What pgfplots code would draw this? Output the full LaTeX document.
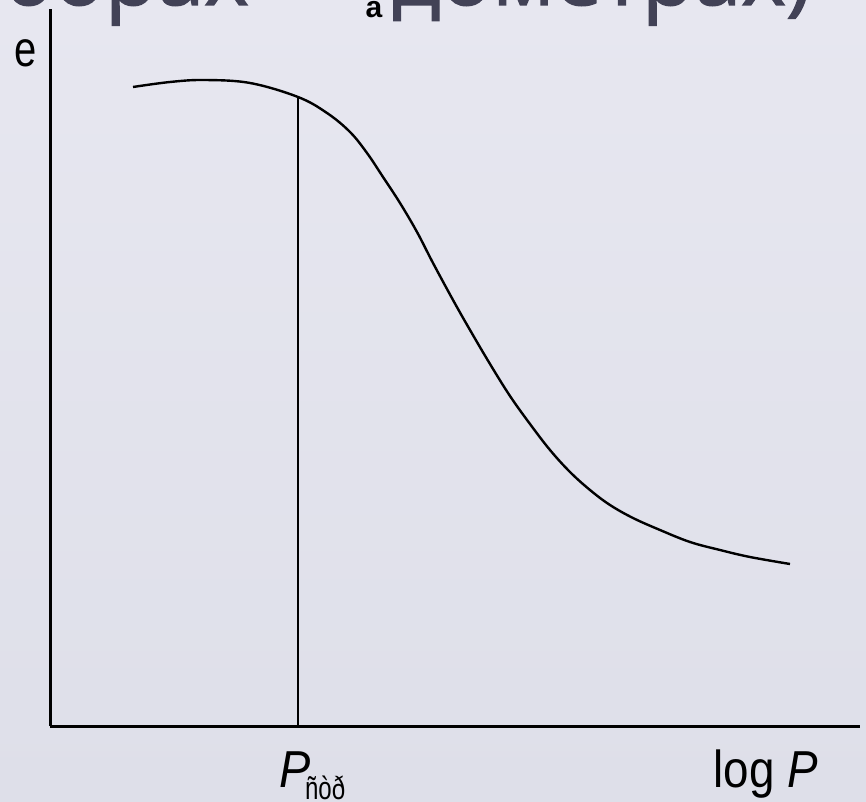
\documentclass[border=0pt]{standalone}
\usepackage{pgfplots}
\pgfplotsset{compat=1.18}
\usepackage{fontspec}
\setmainfont{Liberation Sans}
\newfontfamily\titlefont{Open Sans}[FakeBold=1.6]
\definecolor{bgtop}{RGB}{231,231,240}
\definecolor{bgbot}{RGB}{222,223,233}
\definecolor{titlecol}{RGB}{66,66,86}
\begin{document}
\begin{tikzpicture}
\useasboundingbox (0pt,0pt) rectangle (866pt,801pt);
\clip (0pt,0pt) rectangle (866pt,801pt);
\shade[top color=bgtop, bottom color=bgbot] (0pt,0pt) rectangle (866pt,801pt);
% cut-off slide title
\node[anchor=base east, inner sep=0pt, text=titlecol] at (249pt,796pt) {\titlefont\fontsize{85}{85}\selectfont приборах};
\node[anchor=base west, inner sep=0pt, text=titlecol] at (392pt,796pt) {\titlefont\fontsize{85}{85}\selectfont дометрах)};
\node[anchor=base, inner sep=0pt] at (374pt,783pt) {\fontsize{30}{30}\selectfont\bfseries a};
\begin{axis}[
  at={(50pt,75pt)}, anchor=south west,
  scale only axis, width=810pt, height=717pt,
  xmin=50, xmax=860, ymin=75, ymax=792,
  axis x line=bottom, axis y line=left,
  axis line style={-, line width=3pt, black},
  xtick=\empty, ytick=\empty,
  clip=false,
]
\addplot[black, line width=2.4pt, smooth, tension=0.6] coordinates {
(133,714) (170,719) (204,721) (250,718) (298,704) (327,688) (350,669)
(367,648) (383,624) (400,598) (417,569) (433,538) (453,501) (470,471)
(490,437) (510,405) (530,377) (550,351) (570,329) (590,311) (610,296)
(633,283) (660,271) (690,259) (720,251) (750,244) (790,237)
};
\addplot[black, line width=1.5pt] coordinates {(298,75) (298,704)};
\end{axis}
\node[anchor=base, inner sep=0pt, xscale=0.8] at (26pt,734pt) {\fontsize{50}{50}\selectfont e};
\node[anchor=base west, inner sep=0pt, xscale=0.9] at (279pt,14pt) {\fontsize{52}{52}\selectfont\itshape P};
\node[anchor=base west, inner sep=0pt, xscale=0.75] at (305pt,2pt) {\fontsize{32}{32}\selectfont ñòð};
\node[anchor=base east, inner sep=0pt, xscale=0.88] at (818pt,14pt) {\fontsize{52}{52}\selectfont log \textit{P}};
\end{tikzpicture}
\end{document}
